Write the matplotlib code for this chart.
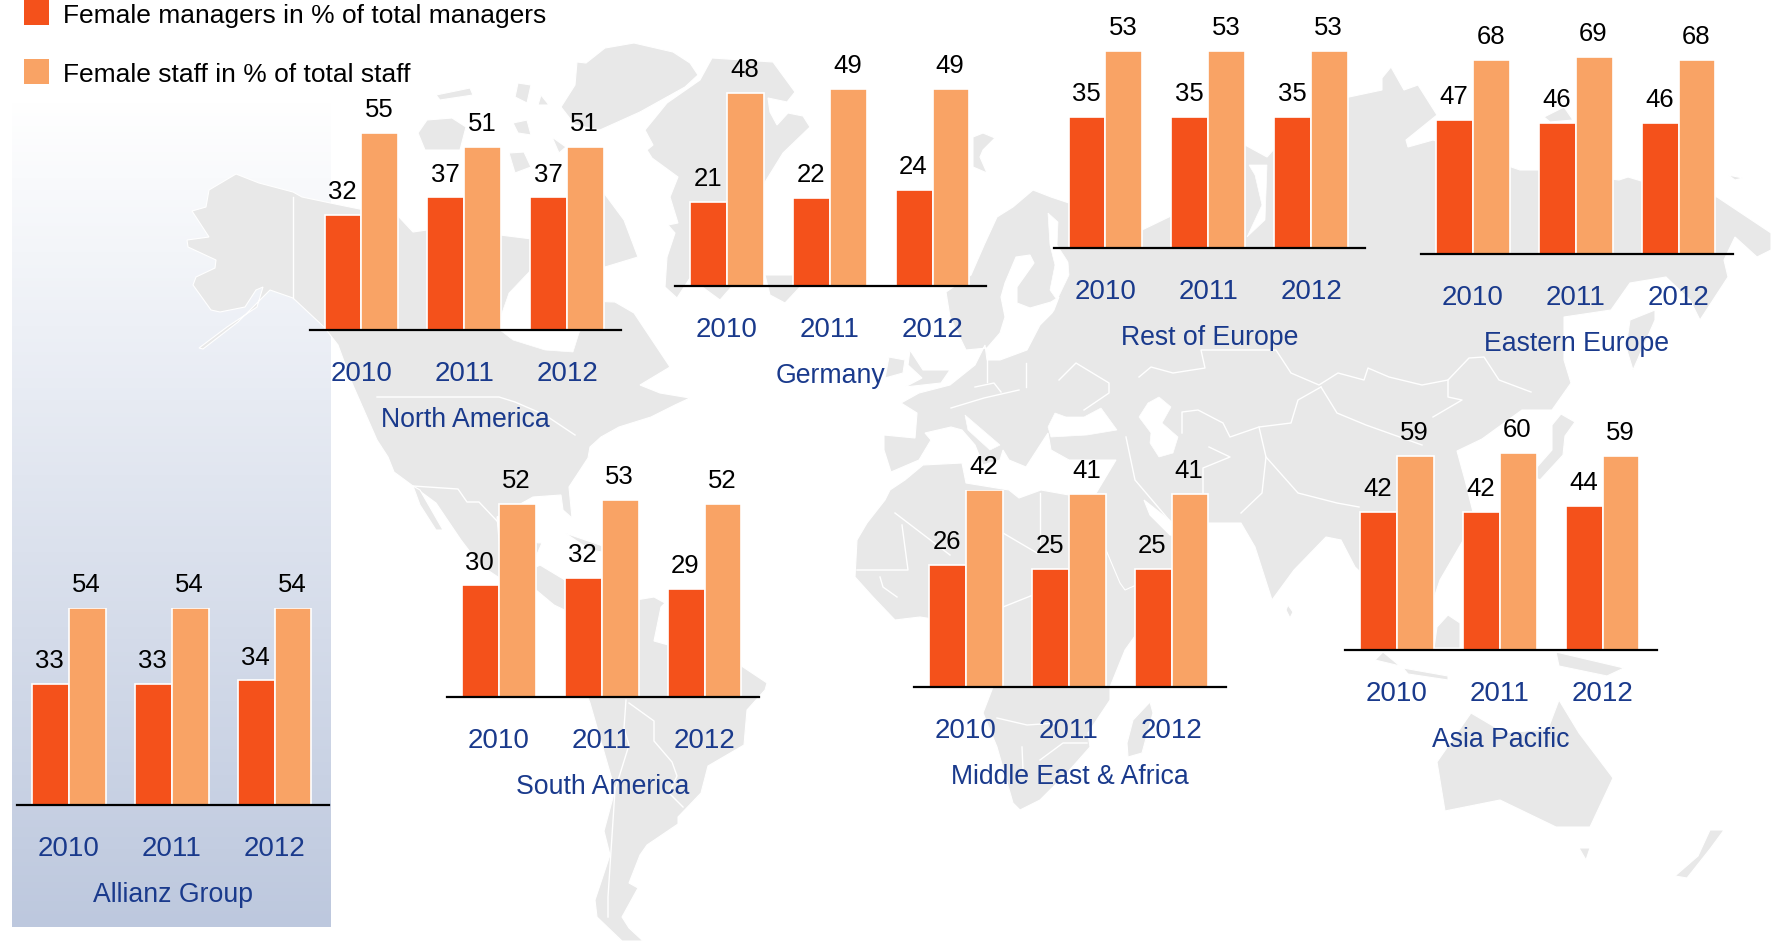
import numpy as np
from matplotlib import pyplot as plt
from matplotlib.colors import LinearSegmentedColormap
from matplotlib.patches import Polygon, Rectangle

plt.rcParams["font.family"] = ["Liberation Sans", "DejaVu Sans"]

W, H = 1771, 941

years = ["2010", "2011", "2012"]
series_names = ["Female managers in % of total managers", "Female staff in % of total staff"]

north_america_managers = [32, 37, 37]
north_america_staff = [55, 51, 51]
germany_managers = [21, 22, 24]
germany_staff = [48, 49, 49]
rest_of_europe_managers = [35, 35, 35]
rest_of_europe_staff = [53, 53, 53]
eastern_europe_managers = [47, 46, 46]
eastern_europe_staff = [68, 69, 68]
south_america_managers = [30, 32, 29]
south_america_staff = [52, 53, 52]
middle_east_managers = [26, 25, 25]
middle_east_staff = [42, 41, 41]
asia_pacific_managers = [42, 42, 44]
asia_pacific_staff = [59, 60, 59]
allianz_managers = [33, 33, 34]
allianz_staff = [54, 54, 54]

# name, managers, staff, left edge px, baseline px
charts = [
    ("North America", north_america_managers, north_america_staff, 309.5, 330),
    ("Germany", germany_managers, germany_staff, 675, 286),
    ("Rest of Europe", rest_of_europe_managers, rest_of_europe_staff, 1053.5, 247.5),
    ("Eastern Europe", eastern_europe_managers, eastern_europe_staff, 1421, 254),
    ("South America", south_america_managers, south_america_staff, 447, 697),
    ("Middle East & Africa", middle_east_managers, middle_east_staff, 914, 686.5),
    ("Asia Pacific", asia_pacific_managers, asia_pacific_staff, 1345, 650),
    ("Allianz Group", allianz_managers, allianz_staff, 17, 804.5),
]

DARK = "#f4511b"
LIGHT = "#f9a365"
BLUE = "#1a3a8c"
LAND = "#e8e8e8"

# rough outline of the background map, in picture pixels
land = [
    [(236, 174), (209, 190), (206, 207), (192, 211), (209, 237), (187, 240), (188, 247), (216, 260), (215, 268),
     (196, 277), (193, 285), (211, 310), (220, 312), (245, 307), (256, 290), (263, 287), (257, 307), (227, 327),
     (199, 348), (203, 349), (238, 322), (270, 290), (293, 298), (324, 327), (338, 345), (352, 383), (377, 440),
     (388, 457), (394, 472), (413, 486), (436, 503), (461, 540), (480, 565), (510, 585), (536, 590), (554, 605),
     (575, 615), (600, 625), (625, 610), (600, 600), (575, 600), (565, 580), (540, 565), (530, 570), (542, 543),
     (525, 542), (515, 555), (500, 552), (497, 517), (533, 497), (561, 495), (563, 510), (572, 518), (569, 487),
     (588, 458), (590, 447), (601, 437), (619, 427), (651, 417), (675, 405), (690, 398), (660, 393), (640, 385),
     (670, 367), (634, 313), (615, 302), (560, 300), (540, 240), (500, 235), (427, 230), (413, 232), (399, 217),
     (340, 205), (302, 197), (293, 192), (259, 183)],
    [(604, 193), (624, 220), (638, 257), (605, 267), (585, 240), (590, 205)],
    [(418, 133), (427, 120), (452, 118), (466, 127), (460, 150), (425, 150)],
    [(436, 95), (470, 88), (473, 95), (440, 100)],
    [(518, 83), (531, 85), (527, 103), (515, 97)],
    [(541, 95), (549, 105), (538, 105)],
    [(513, 123), (527, 120), (531, 135), (518, 133)],
    [(509, 153), (524, 152), (531, 167), (515, 173)],
    [(552, 137), (566, 147), (559, 153)],
    [(577, 62), (586, 63), (605, 48), (634, 43), (673, 52), (690, 63), (698, 75), (685, 87), (640, 112), (600, 130),
     (575, 125), (561, 107), (575, 85)],
    [(700, 80), (712, 58), (773, 62), (795, 92), (787, 102), (768, 98), (770, 112), (777, 125), (788, 113),
     (803, 116), (810, 127), (783, 153), (762, 187), (758, 212), (755, 260), (720, 300), (690, 278), (677, 298),
     (665, 287), (667, 257), (675, 233), (668, 225), (678, 223), (670, 197), (678, 177), (652, 158), (647, 150),
     (653, 145), (645, 130), (667, 103)],
    [(765, 275), (793, 275), (800, 287), (785, 303), (770, 295)],
    [(973, 137), (983, 133), (995, 138), (983, 150), (980, 157), (987, 173), (973, 167)],
    [(565, 533), (600, 545), (620, 555), (590, 550)],
    [(413, 486), (420, 490), (443, 530), (436, 530), (420, 505)],
    [(625, 610), (636, 600), (654, 597), (665, 603), (661, 607), (654, 641), (740, 665), (767, 683), (765, 690),
     (747, 710), (744, 745), (708, 766), (701, 793), (678, 817), (678, 824), (647, 845), (640, 855), (629, 883),
     (638, 888), (622, 917), (629, 928), (643, 941), (622, 941), (597, 917), (595, 900), (610, 855), (604, 831),
     (615, 790), (590, 703), (585, 690), (600, 640)],
    [(884, 435), (915, 438), (917, 413), (901, 403), (919, 393), (950, 385), (975, 365), (985, 345), (987, 360),
     (1000, 360), (1027, 350), (1040, 325), (1052, 313), (1054, 310), (1059, 297), (1051, 302), (1030, 308),
     (1017, 303), (1017, 287), (1034, 263), (1030, 255), (1016, 257), (1005, 283), (1001, 297), (1005, 317),
     (1000, 333), (987, 348), (966, 350), (950, 317), (946, 292), (971, 275), (985, 243), (997, 217), (1013, 207),
     (1033, 190), (1051, 197), (1069, 203), (1100, 225), (1142, 230), (1173, 215), (1190, 170), (1215, 160),
     (1245, 145), (1267, 157), (1300, 120), (1349, 97), (1382, 90), (1382, 78), (1391, 67), (1404, 90), (1418, 85),
     (1437, 115), (1406, 140), (1408, 147), (1433, 140), (1520, 170), (1539, 170), (1619, 180), (1628, 177),
     (1648, 183), (1717, 197), (1771, 233), (1771, 250), (1757, 257), (1735, 237), (1724, 260), (1728, 277),
     (1700, 320), (1690, 300), (1666, 277), (1630, 283), (1611, 310), (1564, 317), (1564, 360), (1571, 383),
     (1552, 410), (1522, 410), (1482, 439), (1457, 451), (1465, 480), (1475, 520), (1440, 580), (1420, 640),
     (1395, 640), (1390, 600), (1355, 567), (1341, 540), (1326, 537), (1294, 570), (1272, 600), (1255, 547),
     (1241, 523), (1208, 523), (1173, 523), (1144, 500), (1150, 515), (1170, 535), (1200, 540), (1195, 580),
     (1140, 600), (1122, 590), (1103, 543), (1095, 495), (1116, 460), (1069, 460), (1051, 450), (1048, 433),
     (1026, 467), (1009, 460), (1003, 450), (1000, 460), (983, 465), (975, 445), (962, 430), (951, 427), (925, 433),
     (931, 440), (919, 460), (891, 472), (884, 450)],
    [(890, 490), (885, 500), (867, 523), (857, 540), (855, 577), (873, 597), (895, 620), (920, 617), (970, 625),
     (993, 650), (993, 687), (983, 713), (997, 747), (1013, 803), (1020, 810), (1040, 800), (1067, 773), (1090, 747),
     (1088, 733), (1110, 700), (1110, 687), (1125, 650), (1175, 580), (1170, 570), (1125, 590), (1120, 583),
     (1103, 543), (1087, 495), (1069, 495), (1041, 490), (1019, 498), (1009, 490), (966, 483), (962, 463),
     (923, 465), (905, 480)],
    [(1150, 702), (1153, 713), (1142, 753), (1128, 757), (1127, 743), (1133, 720)],
    [(910, 350), (923, 370), (950, 370), (941, 383), (905, 387), (922, 378), (908, 365)],
    [(889, 357), (905, 360), (903, 373), (885, 378)],
    [(1288, 605), (1293, 612), (1290, 618), (1286, 610)],
    [(1655, 310), (1655, 320), (1633, 370), (1626, 347), (1630, 320)],
    [(1544, 117), (1564, 107), (1573, 120), (1550, 122)],
    [(1728, 175), (1743, 178), (1735, 180)],
    [(1561, 414), (1575, 422), (1565, 436), (1563, 455), (1540, 480), (1530, 475), (1552, 450), (1552, 425)],
    [(1403, 668), (1448, 676), (1448, 680), (1408, 674)],
    [(1383, 652), (1400, 666), (1375, 660)],
    [(1448, 615), (1460, 623), (1460, 648), (1434, 648), (1437, 627)],
    [(1556, 652), (1624, 668), (1607, 676), (1559, 666)],
    [(1437, 762), (1445, 811), (1500, 800), (1556, 827), (1590, 827), (1613, 778), (1579, 733), (1559, 700),
     (1548, 729), (1505, 733), (1471, 713)],
    [(1579, 848), (1590, 848), (1586, 860)],
    [(1675, 876), (1698, 856), (1710, 830), (1724, 830), (1710, 849), (1687, 878)],
]

water = [
    [(502, 313), (509, 293), (529, 272), (540, 250), (600, 290), (579, 333), (573, 352), (545, 350), (513, 340),
     (500, 330)],
    [(1048, 213), (1058, 222), (1057, 245), (1068, 262), (1069, 275), (1057, 300), (1050, 290), (1055, 265),
     (1050, 245)],
    [(1249, 165), (1267, 165), (1265, 220), (1247, 237), (1262, 205), (1255, 175)],
    [(1048, 427), (1055, 413), (1066, 417), (1084, 417), (1101, 408), (1117, 430), (1087, 435), (1051, 437)],
    [(1139, 417), (1148, 403), (1159, 397), (1171, 407), (1162, 423), (1178, 437), (1173, 453), (1159, 457),
     (1150, 443), (1151, 433)],
    [(965, 415), (1000, 445), (990, 450), (968, 430)],
]

borders = [
    [(293, 197), (293, 298)],
    [(377, 397), (499, 397), (515, 402), (545, 415), (575, 435)],
    [(413, 486), (458, 489), (467, 502), (479, 502), (497, 521)],
    [(1139, 377), (1151, 367), (1173, 373), (1205, 368), (1201, 350), (1276, 350), (1291, 373), (1319, 385),
     (1338, 373), (1364, 380), (1368, 368), (1389, 377), (1422, 385), (1448, 380), (1469, 358), (1484, 357),
     (1499, 380), (1531, 392)],
    [(1448, 380), (1448, 397), (1462, 400), (1433, 417)],
    [(1321, 387), (1337, 413), (1366, 425), (1422, 445)],
    [(1321, 387), (1298, 400), (1291, 423), (1259, 427), (1230, 437), (1223, 423), (1198, 410), (1182, 412),
     (1182, 433)],
    [(1259, 427), (1266, 457), (1262, 493), (1241, 513)],
    [(1266, 457), (1298, 493), (1337, 503), (1359, 507)],
    [(1126, 437), (1135, 480), (1169, 520)],
    [(1209, 447), (1230, 457), (1203, 468), (1203, 493)],
    [(987, 360), (987, 382)],
    [(1026, 363), (1026, 387)],
    [(975, 387), (994, 383), (1001, 392)],
    [(951, 408), (984, 398), (1019, 390)],
    [(1059, 380), (1076, 363), (1109, 383), (1109, 393), (1084, 410)],
    [(895, 513), (950, 555)],
    [(1003, 533), (1037, 553)],
    [(1040, 493), (1040, 547)],
    [(902, 525), (908, 570), (857, 570)],
    [(880, 577), (883, 587), (897, 597)],
    [(1003, 607), (1033, 595)],
    [(997, 718), (1027, 725), (1057, 723)],
    [(1022, 747), (1023, 770)],
    [(1040, 760), (1063, 743), (1087, 743)],
    [(626, 700), (624, 728), (629, 745), (615, 790), (608, 897), (608, 917)],
    [(629, 703), (654, 721), (654, 741), (672, 762), (677, 776), (669, 793), (683, 807)],
]


def draw_background(ax):
    ax.set_xlim(0, W)
    ax.set_ylim(H, 0)
    ax.axis("off")
    cmap = LinearSegmentedColormap.from_list("panel", ["#ffffff", "#bdc8de"])
    gradient = np.linspace(0, 1, 256).reshape(-1, 1)
    ax.imshow(gradient, cmap=cmap, extent=[12, 331, 927, 100], aspect="auto", zorder=1)
    ax.set_xlim(0, W)
    ax.set_ylim(H, 0)
    for outline in land:
        ax.add_patch(Polygon(outline, closed=True, facecolor=LAND, edgecolor="white", linewidth=0.8, zorder=2))
    for outline in water:
        ax.add_patch(Polygon(outline, closed=True, facecolor="white", edgecolor="white", linewidth=0.5, zorder=3))
    for line in borders:
        xs, ys = zip(*line)
        ax.plot(xs, ys, color="white", linewidth=1.0, zorder=4)

    # legend
    for top, color, name in [(0, DARK, series_names[0]), (59, LIGHT, series_names[1])]:
        ax.add_patch(Rectangle((24, top), 25, 25, facecolor=color, edgecolor="none", zorder=5))
        ax.text(63, top + 16, name, fontsize=19, color="black", va="center", ha="left", zorder=5)


def draw_chart(fig, name, managers, staff, left, baseline):
    width, height = 311.5, 197
    ax = fig.add_axes([left / W, 1 - baseline / H, width / W, height / H])
    ax.patch.set_visible(False)
    # the three groups sit a little closer together than the axis thirds
    positions = np.arange(len(years)) * 0.99
    bar_width = 0.355
    top = max(managers + staff)
    bars_a = ax.bar(positions - bar_width / 2, managers, bar_width, color=DARK, edgecolor="white", linewidth=1.2)
    bars_b = ax.bar(positions + bar_width / 2, staff, bar_width, color=LIGHT, edgecolor="white", linewidth=1.2)
    ax.set_xlim(-0.5, 2.5)
    ax.set_ylim(0, top)
    for bars, values in [(bars_a, managers), (bars_b, staff)]:
        for bar, value in zip(bars, values):
            ax.annotate(str(value), (bar.get_x() + bar.get_width() / 2, value), xytext=(-0.5, 16.5),
                        textcoords="offset points", ha="center", va="center", fontsize=18.5, color="black",
                        annotation_clip=False)
    for side in ["left", "top", "right"]:
        ax.spines[side].set_visible(False)
    ax.spines["bottom"].set_linewidth(1.6)
    ax.spines["bottom"].set_color("black")
    ax.set_yticks([])
    ax.set_xticks(positions)
    ax.set_xticklabels(years, fontsize=20, color=BLUE)
    ax.tick_params(axis="x", length=0, pad=22.5)
    ax.set_xlabel(name, fontsize=19.2, color=BLUE, labelpad=14.5)


def main():
    fig = plt.figure(figsize=(W / 100, H / 100), dpi=100)
    background = fig.add_axes([0, 0, 1, 1])
    draw_background(background)
    for name, managers, staff, left, baseline in charts:
        draw_chart(fig, name, managers, staff, left, baseline)
    return fig


if __name__ == "__main__":
    figure = main()
    figure.savefig("out.png", dpi=100)
